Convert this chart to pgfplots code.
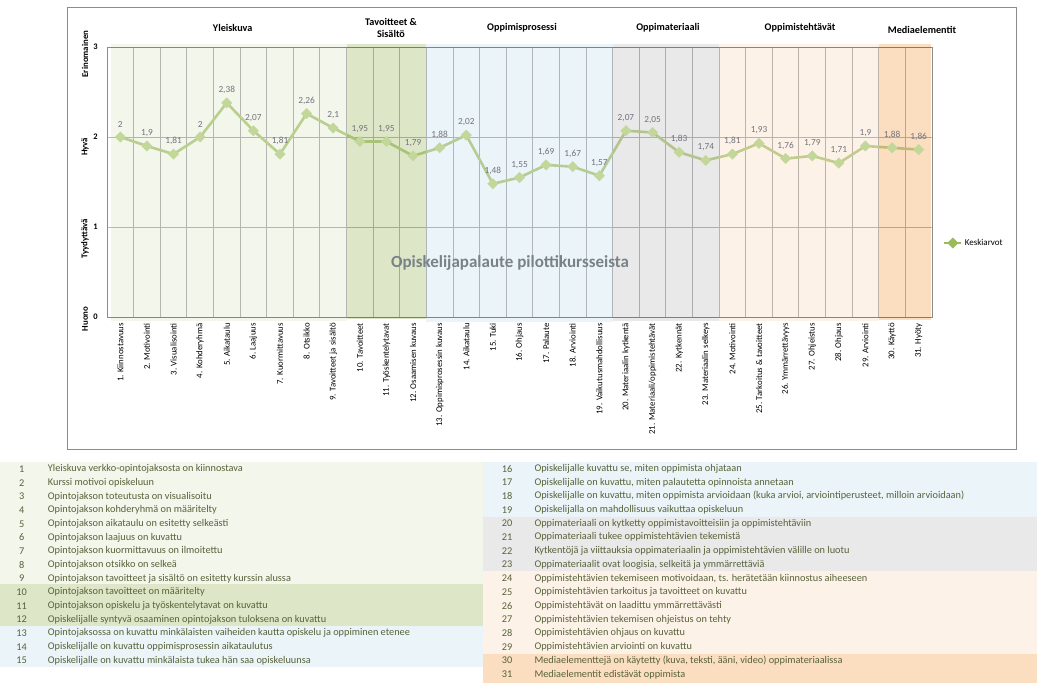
\documentclass[border=0pt]{standalone}
\usepackage{fontspec}
\setmainfont{Carlito}
\usepackage{pgfplots}
\pgfplotsset{compat=1.18}

\definecolor{bandA}{RGB}{242,246,235}
\definecolor{bandB}{RGB}{221,231,199}
\definecolor{bandC}{RGB}{235,244,248}
\definecolor{bandD}{RGB}{233,233,233}
\definecolor{bandE}{RGB}{253,242,232}
\definecolor{bandF}{RGB}{251,221,192}
\definecolor{linegreen}{RGB}{196,215,155}
\definecolor{leggreen}{RGB}{155,187,89}
\definecolor{gridgray}{RGB}{190,190,190}
\definecolor{axisgray}{RGB}{140,140,140}
\definecolor{labgray}{RGB}{115,115,125}
\definecolor{rowtext}{RGB}{88,98,58}
\definecolor{marktext}{RGB}{120,130,135}

\newcommand\rowfont{\fontsize{10.3}{12}\selectfont}
\newcommand\lrow[2]{%
  \node[font=\rowfont, text=rowtext] at (21.7,{214-13.69*(#1-1)}) {#1};
  \node[font=\rowfont, text=rowtext, anchor=west, inner sep=0pt] at (47.7,{214-13.69*(#1-1)}) {#2};}
\newcommand\rrow[2]{%
  \node[font=\rowfont, text=rowtext] at (507,{214.4-13.72*(#1-16)}) {#1};
  \node[font=\rowfont, text=rowtext, anchor=west, inner sep=0pt] at (534.3,{214.4-13.72*(#1-16)}) {#2};}

\begin{document}
\begin{tikzpicture}
% bottom table backgrounds
\begin{scope}[x=1pt,y=1pt]
\fill[bandA] (0,221.3) rectangle (483,99);
\fill[bandB] (0,99) rectangle (483,57);
\fill[bandC] (0,57) rectangle (483,16.3);
\fill[bandC] (483,221) rectangle (1037,166.3);
\fill[bandD] (483,166.3) rectangle (1037,112);
\fill[bandE] (483,112) rectangle (1037,28.7);
\fill[bandF] (483,28.7) rectangle (1037,0);
\draw[axisgray, line width=0.9pt] (67,676) rectangle (1016,234);
\end{scope}

\begin{axis}[
  at={(107pt,366pt)}, anchor=south west,
  scale only axis, width=825pt, height=270pt,
  xmin=0.5, xmax=31.5, ymin=0, ymax=3,
  clip=false,
  xtick={1,...,31},
  xticklabels={1. Kiinnostavuus, 2. Motivointi, 3. Visualisointi, 4. Kohderyhmä,
    5. Aikataulu, 6. Laajuus, 7. Kuormittavuus, 8. Otsikko, 9. Tavoitteet ja sisältö,
    10. Tavoitteet, 11. Työskentelytavat, 12. Osaamisen kuvaus,
    13. Oppimisprosessin kuvaus, 14. Aikataulu, 15. Tuki, 16. Ohjaus, 17. Palaute,
    18. Arviointi, 19. Vaikutusmahdollisuus, 20. Materiaalin kytkentä,
    21. Materiaali/oppimistehtävät, 22. Kytkennät, 23. Materiaalin selkeys,
    24. Motivointi, 25. Tarkoitus \& tavoitteet, 26. Ymmärrettävyys, 27. Ohjeistus,
    28. Ohjaus, 29. Arviointi, 30. Käyttö, 31. Hyöty},
  minor xtick={1.5,2.5,...,30.5},
  xminorgrids, ymajorgrids,
  major tick length=0pt, minor tick length=0pt,
  ytick={0,1,2,3},
  axis line style={axisgray, line width=0.9pt},
  major grid style={gridgray, line width=0.9pt},
  minor grid style={gridgray, line width=0.9pt},
  x tick label style={rotate=90, anchor=east, inner sep=0pt,
    font=\fontsize{8.8}{10}\selectfont},
  xticklabel shift=6pt,
  y tick label style={inner sep=0pt, font=\fontsize{8.5}{10}\selectfont\bfseries},
  yticklabel shift=9pt,
  /pgf/number format/assume math mode=true,
  /pgf/number format/use comma,
  legend style={at={(axis description cs:1.012,0.274)}, anchor=west,
    draw=none, fill=none, font=\fontsize{9}{10}\selectfont, inner sep=1pt},
  legend image post style={draw=leggreen, fill=leggreen},
]
\addplot[linegreen, line width=2.6pt, mark=square*, mark size=2.6pt,
  mark options={rotate=45, solid},
  nodes near coords, point meta=explicit,
  nodes near coords style={font=\fontsize{9.3}{10}\selectfont, text=labgray,
    anchor=south, inner sep=0pt, yshift=8pt,
    /pgf/number format/precision=2}]
  table[meta index=2] {
  x y m
  1 2 2
  2 1.9 1.9
  3 1.81 1.81
  4 2 2
  5 2.38 2.38
  6 2.07 2.07
  7 1.81 1.81
  8 2.26 2.26
  9 2.1 2.1
  10 1.95 1.95
  11 1.95 1.95
  12 1.79 1.79
  13 1.88 1.88
  14 2.02 2.02
  15 1.48 1.48
  16 1.55 1.55
  17 1.69 1.69
  18 1.67 1.67
  19 1.57 1.57
  20 2.07 2.07
  21 2.05 2.05
  22 1.83 1.83
  23 1.74 1.74
  24 1.81 1.81
  25 1.93 1.93
  26 1.76 1.76
  27 1.79 1.79
  28 1.71 1.71
  29 1.9 1.9
  30 1.88 1.88
  31 1.86 1.86
  };
\addlegendentry{Keskiarvot}
% category bands, multiplied over grid and line
\fill[bandA, blend mode=multiply] (axis cs:0.64,-0.05) rectangle (axis cs:9.5,3.035);
\fill[bandB, blend mode=multiply] (axis cs:9.5,-0.02) rectangle (axis cs:12.5,3.03);
\fill[bandC, blend mode=multiply] (axis cs:12.5,-0.06) rectangle (axis cs:19.5,3.035);
\fill[bandD, blend mode=multiply] (axis cs:19.5,-0.05) rectangle (axis cs:23.5,3.035);
\fill[bandE, blend mode=multiply] (axis cs:23.5,-0.04) rectangle (axis cs:29.5,3.035);
\fill[bandF, blend mode=multiply] (axis cs:29.5,-0.03) rectangle (axis cs:31.46,3.03);
% rating words beside y ticks
\node[rotate=90, font=\fontsize{8.8}{10}\selectfont\bfseries] at (axis description cs:-0.0267,0.974) {Erinomainen};
\node[rotate=90, font=\fontsize{8.8}{10}\selectfont\bfseries] at (axis description cs:-0.0267,0.630) {Hyvä};
\node[rotate=90, font=\fontsize{8.8}{10}\selectfont\bfseries] at (axis description cs:-0.0267,0.289) {Tyydyttävä};
\node[rotate=90, font=\fontsize{8.8}{10}\selectfont\bfseries] at (axis description cs:-0.0267,-0.007) {Huono};
\end{axis}

\begin{scope}[x=1pt,y=1pt]
\node[font=\fontsize{17}{19}\selectfont\bfseries, text=marktext] at (510,420) {Opiskelijapalaute pilottikursseista};
\begin{scope}[font=\fontsize{10.2}{12}\selectfont\bfseries]
\node at (232.7,655) {Yleiskuva};
\node at (391,661) {Tavoitteet \&};
\node at (391,649) {Sisältö};
\node at (522,655) {Oppimisprosessi};
\node at (668,655) {Oppimateriaali};
\node at (800,655) {Oppimistehtävät};
\node at (922,653) {Mediaelementit};
\end{scope}
\lrow{1}{Yleiskuva verkko-opintojaksosta on kiinnostava}
\lrow{2}{Kurssi motivoi opiskeluun}
\lrow{3}{Opintojakson toteutusta on visualisoitu}
\lrow{4}{Opintojakson kohderyhmä on määritelty}
\lrow{5}{Opintojakson aikataulu on esitetty selkeästi}
\lrow{6}{Opintojakson laajuus on kuvattu}
\lrow{7}{Opintojakson kuormittavuus on ilmoitettu}
\lrow{8}{Opintojakson otsikko on selkeä}
\lrow{9}{Opintojakson tavoitteet ja sisältö on esitetty kurssin alussa}
\lrow{10}{Opintojakson tavoitteet on määritelty}
\lrow{11}{Opintojakson opiskelu ja työskentelytavat on kuvattu}
\lrow{12}{Opiskelijalle syntyvä osaaminen opintojakson tuloksena on kuvattu}
\lrow{13}{Opintojaksossa on kuvattu minkälaisten vaiheiden kautta opiskelu ja oppiminen etenee}
\lrow{14}{Opiskelijalle on kuvattu oppimisprosessin aikataulutus}
\lrow{15}{Opiskelijalle on kuvattu minkälaista tukea hän saa opiskeluunsa}
\rrow{16}{Opiskelijalle kuvattu se, miten oppimista ohjataan}
\rrow{17}{Opiskelijalle on kuvattu, miten palautetta opinnoista annetaan}
\rrow{18}{Opiskelijalle on kuvattu, miten oppimista arvioidaan (kuka arvioi, arviointiperusteet, milloin arvioidaan)}
\rrow{19}{Opiskelijalla on mahdollisuus vaikuttaa opiskeluun}
\rrow{20}{Oppimateriaali on kytketty oppimistavoitteisiin ja oppimistehtäviin}
\rrow{21}{Oppimateriaali tukee oppimistehtävien tekemistä}
\rrow{22}{Kytkentöjä ja viittauksia oppimateriaalin ja oppimistehtävien välille on luotu}
\rrow{23}{Oppimateriaalit ovat loogisia, selkeitä ja ymmärrettäviä}
\rrow{24}{Oppimistehtävien tekemiseen motivoidaan, ts. herätetään kiinnostus aiheeseen}
\rrow{25}{Oppimistehtävien tarkoitus ja tavoitteet on kuvattu}
\rrow{26}{Oppimistehtävät on laadittu ymmärrettävästi}
\rrow{27}{Oppimistehtävien tekemisen ohjeistus on tehty}
\rrow{28}{Oppimistehtävien ohjaus on kuvattu}
\rrow{29}{Oppimistehtävien arviointi on kuvattu}
\rrow{30}{Mediaelementtejä on käytetty (kuva, teksti, ääni, video) oppimateriaalissa}
\rrow{31}{Mediaelementit edistävät oppimista}
\end{scope}
\pgfresetboundingbox
\path[use as bounding box] (0,0) rectangle (1037pt,683pt);
\end{tikzpicture}
\end{document}
